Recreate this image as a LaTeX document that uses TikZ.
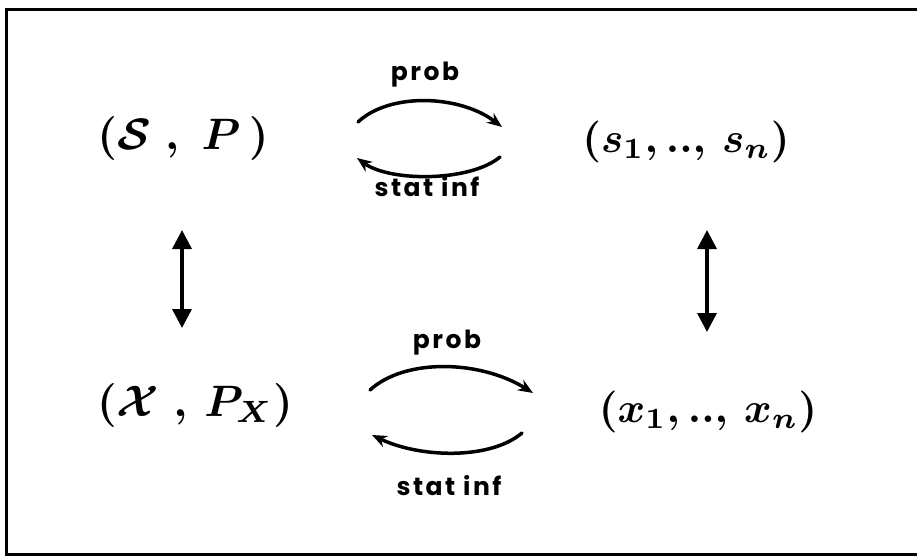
\documentclass[tikz,border=0pt]{standalone}
\usepackage{fontspec}
\setmainfont{Poppins}
\newfontfamily\handfont[LetterSpace=10]{Poppins}
\usetikzlibrary{arrows.meta}
\newcommand\mathlbl[2]{\scalebox{#1}{\boldmath$#2$}}
\begin{document}
\begin{tikzpicture}[x=1pt,y=-1pt,
  big/.style={inner sep=0pt},
  small/.style={inner sep=0pt, font=\handfont\fontsize{25}{30}\selectfont\bfseries},
  curvarr/.style={line width=3.5pt, line cap=round, -{Stealth[length=15pt,width=12pt]}},
  vertarr/.style={line width=3.5pt, {Triangle[length=19pt,width=19pt]}-{Triangle[length=19pt,width=19pt]}},
  frame/.style={line width=3pt}]
\useasboundingbox (0,0) rectangle (917,559);
\draw[frame] (925,10) -- (6,10) -- (6,554) -- (925,554);
% main nodes
\node[big] (SP) at (183,138) {\mathlbl{4.4}{(\mathcal{S}\;,\;P\,)}};
\node[big] (sn) at (686,142) {\mathlbl{4.2}{(s_1,..,\,s_n)}};
\node[big] (XP) at (195,405) {\mathlbl{4.4}{(\mathcal{X}\;,\,P_{X})}};
\node[big] (xn) at (708,412) {\mathlbl{4.2}{(x_1,..,\,x_n)}};
% labels
\node[small] (p1) at (425,75) {prob};
\node[small] (s1) at (427,187) {stat inf};
\node[small] (p2) at (447,343) {prob};
\node[small] (s2) at (449,486) {stat inf};
% curve end points
\coordinate (a1) at (358,122); \coordinate (b1) at (502,127);
\coordinate (a2) at (500,157); \coordinate (b2) at (357,158);
\coordinate (a3) at (370,390); \coordinate (b3) at (533,393);
\coordinate (a4) at (522,433); \coordinate (b4) at (372,435);
\draw[curvarr] (a1) .. controls (390,92) and (460,95) .. (b1);
\draw[curvarr] (a2) .. controls (470,182) and (390,182) .. (b2);
\draw[curvarr] (a3) .. controls (405,358) and (480,360) .. (b3);
\draw[curvarr] (a4) .. controls (490,460) and (420,458) .. (b4);
% vertical arrows
\coordinate (v1t) at (182,230); \coordinate (v1b) at (182,328);
\coordinate (v2t) at (707,230); \coordinate (v2b) at (707,332);
\draw[vertarr] (v1t) -- (v1b);
\draw[vertarr] (v2t) -- (v2b);
\end{tikzpicture}
\end{document}
